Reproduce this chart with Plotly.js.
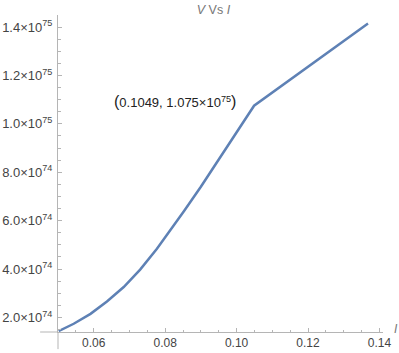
<!DOCTYPE html>
<html>
<head>
<meta charset="utf-8">
<script src="https://cdn.plot.ly/plotly-3.0.1.min.js"></script>
<style>html,body{margin:0;padding:0;background:#fff;}#chart{width:399px;height:353px;}</style>
</head>
<body>
<div id="chart"></div>
<script>
// Current I (x) and voltage V (y)
const currentI = [0.0502, 0.0544, 0.0591, 0.0637, 0.0684, 0.0730, 0.0777, 0.0807, 0.0853, 0.0900, 0.0947, 0.0993, 0.1040, 0.1049, 0.1368];
const voltageV = [1.44e74, 1.74e74, 2.15e74, 2.66e74, 3.26e74, 3.98e74, 4.84e74, 5.44e74, 6.40e74, 7.40e74, 8.44e74, 9.48e74, 10.55e74, 1.075e75, 1.415e75];

const peakI = 0.1049;
const peakV = 1.075e75;
const peakLabel = "<span style='font-size:16px'>(</span>0.1049, 1.075×10<sup>75</sup><span style='font-size:16px'>)</span>";

const yTickVals = [2e74, 4e74, 6e74, 8e74, 1.0e75, 1.2e75, 1.4e75];
const yTickText = ["2.0×10<sup>74</sup>", "4.0×10<sup>74</sup>", "6.0×10<sup>74</sup>", "8.0×10<sup>74</sup>",
                   "1.0×10<sup>75</sup>", "1.2×10<sup>75</sup>", "1.4×10<sup>75</sup>"];
const xTickVals = [0.06, 0.08, 0.10, 0.12, 0.14];
const xTickText = ["0.06", "0.08", "0.10", "0.12", "0.14"];

const axisGray = "#b5b5b5";
const font = {family: "Liberation Sans, Arial, sans-serif", size: 12, color: "#444"};

const trace = {
  x: currentI, y: voltageV, type: "scatter", mode: "lines",
  line: {color: "rgb(94,129,181)", width: 2.5},
  hoverinfo: "skip"
};

const layout = {
  width: 399, height: 353,
  margin: {l: 58, r: 16, t: 15, b: 21},
  paper_bgcolor: "#fff", plot_bgcolor: "#fff",
  font: font,
  showlegend: false,
  title: {text: "<i>V</i> Vs <i>I</i>", x: 0.535, xref: "container", y: 0.972, yref: "container",
          yanchor: "middle", xanchor: "center", font: {family: font.family, size: 12.5, color: "#777"}},
  xaxis: {
    range: [0.05, 0.141], showgrid: false, zeroline: false,
    showline: true, linecolor: axisGray, linewidth: 1,
    ticks: "inside", ticklen: 4, tickcolor: axisGray, tickwidth: 1,
    tickvals: xTickVals, ticktext: xTickText,
    minor: {dtick: 0.005, tick0: 0.05, ticks: "inside", ticklen: 2.5, tickcolor: axisGray, showgrid: false},
    tickfont: {family: font.family, size: 12, color: "#444"},
    fixedrange: true
  },
  yaxis: {
    range: [1.4e74, 1.45e75], showgrid: false, zeroline: false,
    showline: true, linecolor: axisGray, linewidth: 1,
    ticks: "inside", ticklen: 4, tickcolor: axisGray, tickwidth: 1,
    tickvals: yTickVals, ticktext: yTickText,
    minor: {dtick: 0.5e74, tick0: 0, ticks: "inside", ticklen: 2.5, tickcolor: axisGray, showgrid: false},
    tickfont: {family: font.family, size: 13, color: "#444"},
    ticklabelstandoff: 2,
    fixedrange: true
  },
  shapes: [
    {type: "line", xref: "paper", yref: "paper", x0: -0.055, x1: 0, y0: 0, y1: 0,
     line: {color: axisGray, width: 1}},
    {type: "line", xref: "paper", yref: "paper", x0: 0, x1: 0, y0: 0, y1: -0.054,
     line: {color: axisGray, width: 1}}
  ],
  annotations: [
    {x: peakI, y: peakV, xref: "x", yref: "y", text: peakLabel, showarrow: false,
     xanchor: "right", yanchor: "middle", xshift: -16, yshift: 4,
     font: {family: font.family, size: 13, color: "#222"}},
    {x: 1, y: 0, xref: "paper", yref: "paper", text: "<i>I</i>", showarrow: false,
     xanchor: "left", yanchor: "middle", xshift: 9, yshift: 3,
     font: {family: font.family, size: 12, color: "#777"}}
  ]
};

Plotly.newPlot("chart", [trace], layout, {displayModeBar: false, staticPlot: true});
</script>
</body>
</html>
